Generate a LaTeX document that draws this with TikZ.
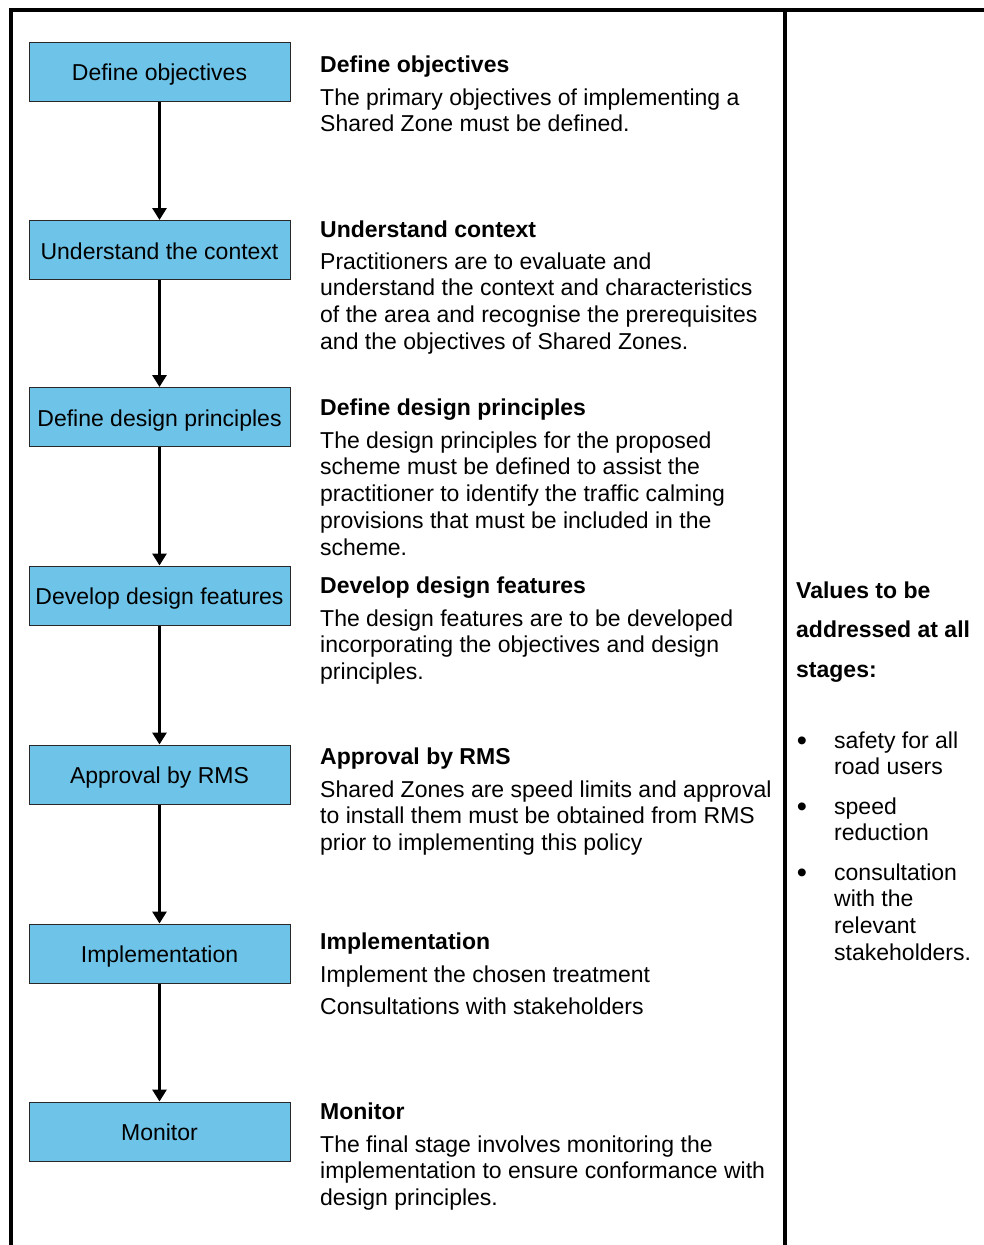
\documentclass[tikz,border=0pt]{standalone}
\usepackage{fontspec}
\setmainfont{Liberation Sans}
\usetikzlibrary{arrows.meta}
\definecolor{boxblue}{RGB}{110,196,232}
\definecolor{boxline}{RGB}{40,40,40}
\tikzset{
  stepbox/.style={draw=boxline, line width=1pt, fill=boxblue, minimum width=261pt, minimum height=59pt, inner sep=0pt, text height=18.5pt, text depth=0pt, font=\fontsize{23}{26.5}\selectfont},
  flowarrow/.style={line width=3.5pt, -{Triangle[width=14pt,length=12pt]}},
  frameline/.style={line width=3.5pt, line cap=rect},
  ttl/.style={anchor=base west, inner sep=0pt, font=\fontsize{23}{26.5}\selectfont\bfseries},
  bodytxt/.style={anchor=base west, inner sep=0pt, align=left, font=\fontsize{23}{26.8}\selectfont},
  valttl/.style={anchor=base west, inner sep=0pt, align=left, font=\fontsize{23}{39.5}\selectfont\bfseries},
  bul/.style={anchor=base, inner sep=0pt, font=\fontsize{29}{30}\selectfont},
}
\begin{document}
\begin{tikzpicture}[x=1pt,y=-1pt]
\useasboundingbox (0,0) rectangle (984,1245);
% frame
\coordinate (fl) at (11,1250);
\coordinate (ftl) at (11,10);
\coordinate (ftr) at (990,10);
\coordinate (dt) at (785,10);
\coordinate (db) at (785,1250);
\draw[frameline] (fl) -- (ftl) -- (ftr);
\draw[frameline] (dt) -- (db);
% boxes
\node[stepbox] (box1) at (159.5,71.5) {Define objectives};
\node[stepbox] (box2) at (159.5,250) {Understand the context};
\node[stepbox] (box3) at (159.5,417) {Define design principles};
\node[stepbox] (box4) at (159.5,595.5) {Develop design features};
\node[stepbox] (box5) at (159.5,774.5) {Approval by RMS};
\node[stepbox] (box6) at (159.5,953.5) {Implementation};
\node[stepbox] (box7) at (159.5,1131.5) {Monitor};
\foreach \a/\b in {box1/box2,box2/box3,box3/box4,box4/box5,box5/box6,box6/box7}
  \draw[flowarrow] (\a.south) -- (\b.north);
% descriptions (anchor = baseline of last line)
\node[ttl] (t1) at (320,72) {Define objectives};
\node[bodytxt] (b1) at (320,131.8) {The primary objectives of implementing a\\Shared Zone must be defined.};
\node[ttl] (t2) at (320,237) {Understand context};
\node[bodytxt] (b2) at (320,349.4) {Practitioners are to evaluate and\\understand the context and characteristics\\of the area and recognise the prerequisites\\and the objectives of Shared Zones.};
\node[ttl] (t3) at (320,415) {Define design principles};
\node[bodytxt] (b3) at (320,555.2) {The design principles for the proposed\\scheme must be defined to assist the\\practitioner to identify the traffic calming\\provisions that must be included in the\\scheme.};
\node[ttl] (t4) at (320,593) {Develop design features};
\node[bodytxt] (b4) at (320,679.6) {The design features are to be developed\\incorporating the objectives and design\\principles.};
\node[ttl] (t5) at (320,764) {Approval by RMS};
\node[bodytxt] (b5) at (320,850.6) {Shared Zones are speed limits and approval\\to install them must be obtained from RMS\\prior to implementing this policy};
\node[ttl] (t6) at (320,949) {Implementation};
\node[bodytxt] (b6) at (320,1014.3) {Implement the chosen treatment\\[5.5pt]Consultations with stakeholders};
\node[ttl] (t7) at (320,1119) {Monitor};
\node[bodytxt] (b7) at (320,1205.6) {The final stage involves monitoring the\\implementation to ensure conformance with\\design principles.};
% values column
\node[valttl] (vt) at (796,677) {Values to be\\addressed at all\\stages:};
\node[bul] (d1) at (802,750) {•};
\node[bodytxt] (v1) at (834,774.8) {safety for all\\road users};
\node[bul] (d2) at (802,816) {•};
\node[bodytxt] (v2) at (834,840.8) {speed\\reduction};
\node[bul] (d3) at (802,882) {•};
\node[bodytxt] (v3) at (834,960.4) {consultation\\with the\\relevant\\stakeholders.};
\end{tikzpicture}
\end{document}
